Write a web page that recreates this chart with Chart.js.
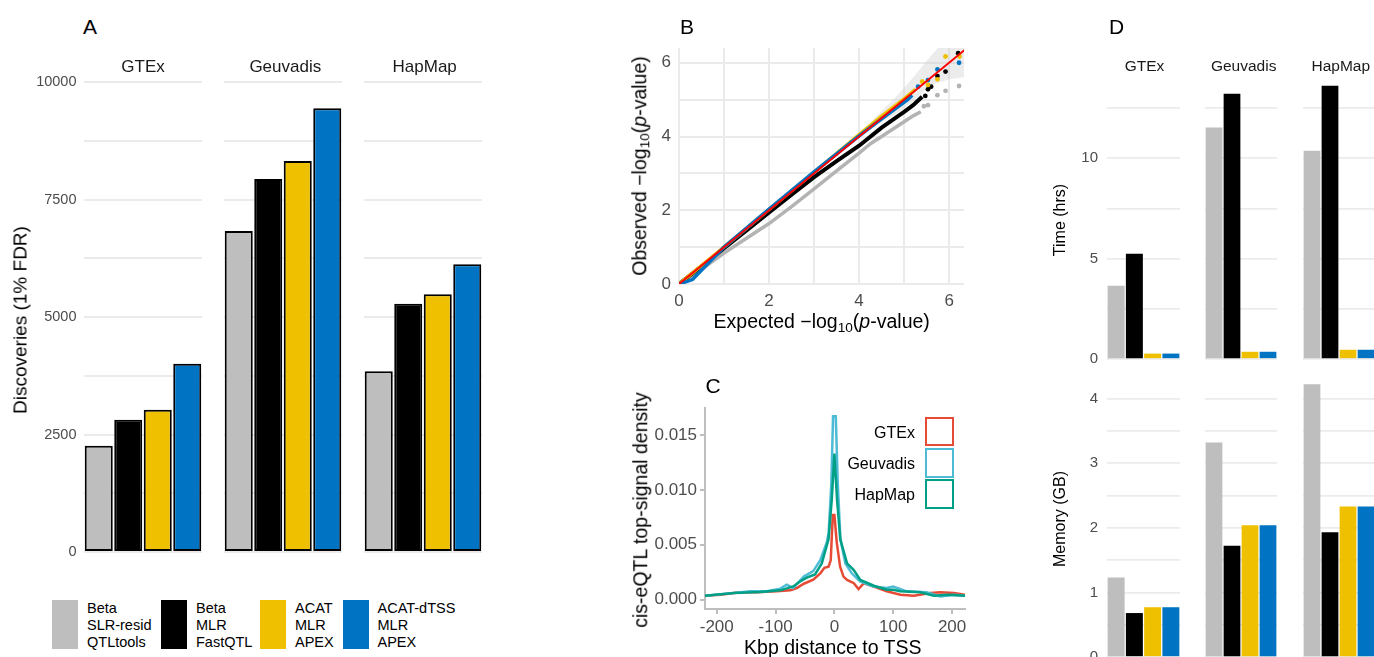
<!DOCTYPE html>
<html><head><meta charset="utf-8">
<script src="https://cdn.jsdelivr.net/npm/chart.js@4.4.0/dist/chart.umd.min.js"></script>
<style>
html,body{margin:0;padding:0;width:1374px;height:657px;overflow:hidden;background:#fff;font-family:'Liberation Sans',Arial,Helvetica,sans-serif;}
canvas{position:absolute;}
.t{position:absolute;white-space:nowrap;line-height:1;transform:translate(-50%,-50%);color:#000;}
.r{transform:translate(-50%,-50%) rotate(-90deg);}
.lg{position:absolute;white-space:nowrap;font-size:14.5px;line-height:17px;color:#000;}
.sw{position:absolute;}
.cbox{position:absolute;box-sizing:border-box;border:2.5px solid;background:#fff;}
sub{font-size:70%;vertical-align:-0.25em;line-height:0;}
</style></head><body>
<script>
// ---------------- DATA ----------------
const facets = ['GTEx', 'Geuvadis', 'HapMap'];
const methods = ['Beta SLR-resid QTLtools', 'Beta MLR FastQTL', 'ACAT MLR APEX', 'ACAT-dTSS MLR APEX'];
const methodLegend = [['Beta','SLR-resid','QTLtools'], ['Beta','MLR','FastQTL'], ['ACAT','MLR','APEX'], ['ACAT-dTSS','MLR','APEX']];
const methodColors = ['#BEBEBE', '#000000', '#EFC000', '#0073C2'];

// Panel A: discoveries (1% FDR)
const discoveriesGTEx = [2261, 2816, 3029, 4004];
const discoveriesGeuvadis = [6832, 7935, 8319, 9443];
const discoveriesHapMap = [3846, 5283, 5482, 6122];
const discoveryTicks = [0, 1250, 2500, 3750, 5000, 6250, 7500, 8750, 10000];
const discoveryTickLabels = ['0', '', '2500', '', '5000', '', '7500', '', '10000'];

// Panel B: QQ plot (expected, observed)
const qqGray = [[0,0],[0.5,0.4],[1,0.84],[1.5,1.24],[2,1.64],[2.5,2.1],[3,2.58],[3.5,3.07],[4,3.55],[4.26,3.81],[4.5,4.0],[5,4.4],[5.2,4.56],[5.37,4.67]];
const qqBlack = [[0,0],[0.5,0.48],[1,0.97],[1.5,1.45],[2,1.94],[2.5,2.42],[3,2.9],[3.5,3.33],[4,3.75],[4.5,4.24],[5,4.67],[5.2,4.85],[5.4,5.08]];
const qqYellow = [[0,0],[1,1.0],[2,2.02],[3,3.03],[4,4.05],[4.5,4.55],[5,5.02],[5.25,5.28]];
const qqBlue = [[0,0],[0.3,0.12],[0.6,0.5],[1,1.0],[2,2.03],[3,3.04],[4,4.02],[4.5,4.48],[5.07,4.99],[5.18,5.12]];
const qqGrayTail = [[5.44,4.82],[5.53,4.85],[5.74,5.12],[5.92,5.24],[6.22,5.37]];
const qqBlackTail = [[5.47,5.1],[5.53,5.28],[5.6,5.35],[5.74,5.64],[5.92,5.76],[6.2,6.26]];
const qqYellowTail = [[5.4,5.49],[5.53,5.4],[5.74,5.55],[5.92,6.17],[6.23,6.17]];
const qqBlueTail = [[5.31,5.35],[5.53,5.53],[5.74,5.82],[6.22,6.0]];
const qqBandUpper = [[4.3,4.45],[4.8,5.05],[5.2,5.6],[5.6,6.2],[5.9,6.6],[6.4,6.6]];
const qqBandLower = [[6.4,5.62],[6.0,5.55],[5.6,5.4],[5.2,4.95],[4.8,4.6],[4.3,4.25]];
const qqIdentity = [[0,0],[6.5,6.5]];
const qqTicks = [0, 1, 2, 3, 4, 5, 6];
const qqTickLabels = ['0', '', '2', '', '4', '', '6'];

// Panel C: top-signal density vs distance to TSS (kbp)
const gtexDistX = [-220,-194,-160,-132,-98,-75,-64,-52,-36,-24,-17,-10,-6.2,-2.8,0,4,9.7,15.4,21.5,33,41,50,67,89,112,135,163,180,203,222];
const gtexDensity = [0.00036,0.00045,0.00067,0.00067,0.00076,0.00085,0.00106,0.00145,0.00182,0.0024,0.0029,0.003,0.0036,0.0077,0.0077,0.0052,0.003,0.0021,0.0018,0.0015,0.00097,0.0015,0.0012,0.00076,0.00045,0.00036,0.0006,0.00067,0.0006,0.00045];
const geuvadisDistX = [-220,-183,-143,-115,-92,-81,-70,-52,-36,-24,-13,-9.8,-5.2,-2.3,2.3,5.7,10.2,18.7,29.5,43.6,66,89,100,123,157,180,203,222];
const geuvadisDensity = [0.00036,0.00055,0.00076,0.00076,0.001,0.00136,0.00106,0.0021,0.0026,0.0036,0.0052,0.0061,0.0106,0.0167,0.0167,0.0106,0.0055,0.0033,0.0024,0.00167,0.0012,0.00106,0.0012,0.00076,0.00067,0.0003,0.00045,0.00036];
const hapmapDistX = [-220,-171,-126,-92,-70,-58,-47,-33,-21.5,-10,-4.5,0,4.5,10,21.5,33,44,67,89,100,112,146,169,192,222];
const hapmapDensity = [0.00036,0.0006,0.0007,0.00085,0.0012,0.00167,0.002,0.0023,0.0033,0.0055,0.0091,0.0133,0.0091,0.0055,0.0033,0.0027,0.0018,0.00127,0.0009,0.0009,0.00076,0.00067,0.00036,0.00045,0.00036];
const densityColors = ['#E64B35', '#4DBBD5', '#00A087'];
const distTicks = [-200, -100, 0, 100, 200];
const distTickLabels = ['-200', '-100', '0', '100', '200'];
const densTicks = [0, 0.005, 0.010, 0.015];
const densTickLabels = ['0.000', '0.005', '0.010', '0.015'];

// Panel D: time (hrs) and memory (GB)
const timeGTEx = [3.65, 5.25, 0.27, 0.27];
const timeGeuvadis = [11.53, 13.22, 0.36, 0.36];
const timeHapMap = [10.38, 13.62, 0.46, 0.46];
const memGTEx = [1.23, 0.68, 0.77, 0.77];
const memGeuvadis = [3.32, 1.72, 2.04, 2.04];
const memHapMap = [4.22, 1.93, 2.33, 2.33];
const timeTicks = [0, 2.5, 5, 7.5, 10, 12.5];
const timeTickLabels = ['0', '', '5', '', '10', ''];
const memTicks = [0, 0.5, 1, 1.5, 2, 2.5, 3, 3.5, 4];
const memTickLabels = ['0', '', '1', '', '2', '', '3', '', '4'];

// ---------------- HELPERS ----------------
Chart.defaults.font.family = "'Liberation Sans', Arial, Helvetica, sans-serif";
Chart.defaults.color = '#4D4D4D';
Chart.defaults.animation = false;
const PAD = 28;
function makeCanvas(area, yW, xH) {
  const c = document.createElement('canvas');
  const left = Math.round(area.l - PAD - yW), top = Math.round(area.t - PAD);
  const w = Math.round(area.r + PAD) - left, h = Math.round(area.b + xH + PAD) - top;
  c.width = w; c.height = h;
  c.style.left = left + 'px'; c.style.top = top + 'px';
  c.style.width = w + 'px'; c.style.height = h + 'px';
  document.body.appendChild(c);
  return c;
}
function baseOptions() {
  return { responsive: false, devicePixelRatio: 1, animation: false,
    layout: { padding: PAD },
    plugins: { legend: { display: false }, tooltip: { enabled: false } } };
}
function fixedTicks(values) { return s => { s.ticks = values.map(v => ({ value: v })); }; }
function label(html, cx, cy, size, extra) {
  const d = document.createElement('div');
  d.className = 't' + (extra && extra.rot ? ' r' : '');
  d.innerHTML = html;
  d.style.left = cx + 'px'; d.style.top = cy + 'px'; d.style.fontSize = size + 'px';
  if (extra && extra.color) d.style.color = extra.color;
  document.body.appendChild(d);
}
function pairs(arr) { return arr.map(p => ({ x: p[0], y: p[1] })); }
function xy(xs, ys) { return xs.map((x, i) => ({ x: x, y: ys[i] })); }

function facetBar(area, values, showY, s) {
  const yW = showY ? s.yW : 0;
  const c = makeCanvas(area, yW, 0);
  const o = baseOptions();
  o.scales = {
    x: { display: false },
    y: { min: s.min, max: s.max, display: true,
      afterBuildTicks: fixedTicks(s.ticks),
      afterFit: sc => { sc.width = yW; },
      ticks: { display: showY, autoSkip: false, padding: s.tickPad, color: '#4D4D4D',
        font: { size: s.fontSize }, callback: (v, i) => s.labels[i] },
      grid: { color: '#EBEBEB', lineWidth: s.gridW, drawTicks: false },
      border: { display: false } }
  };
  new Chart(c, { type: 'bar', data: { labels: methods, datasets: [{
    data: values, backgroundColor: methodColors,
    borderColor: '#000000', borderWidth: s.border, borderSkipped: false,
    barPercentage: s.barPct, categoryPercentage: 1 }] }, options: o });
}

// ---------------- PANEL A ----------------
const aStyle = { min: 0, max: 10000, ticks: discoveryTicks, labels: discoveryTickLabels,
  yW: 70, tickPad: 7.5, fontSize: 14.5, gridW: 2, border: 2, barPct: 0.95 };
const aFacetX = [[83.5, 201.5], [223.5, 341.5], [363.5, 482]];
const aValues = [discoveriesGTEx, discoveriesGeuvadis, discoveriesHapMap];
aFacetX.forEach((fx, i) => facetBar({ l: fx[0], t: 82.3, r: fx[1], b: 552 }, aValues[i], i === 0, aStyle));
label('A', 90, 25.5, 21);
[143, 285.3, 424.7].forEach((cx, i) => label(facets[i], cx, 66, 17, { color: '#1A1A1A' }));
label('Discoveries (1% FDR)', 20, 320, 19, { rot: true });
// legend
const swX = [52, 161, 260, 343], txX = [87, 196, 295, 377.5];
methodLegend.forEach((lines, i) => {
  const sw = document.createElement('div'); sw.className = 'sw';
  sw.style.cssText = `left:${swX[i]}px;top:600px;width:25.5px;height:49px;background:${methodColors[i]};`;
  document.body.appendChild(sw);
  const t = document.createElement('div'); t.className = 'lg';
  t.style.left = txX[i] + 'px'; t.style.top = '599.5px';
  t.innerHTML = lines.join('<br>');
  document.body.appendChild(t);
});

// ---------------- PANEL B ----------------
(function () {
  const c = makeCanvas({ l: 678.5, t: 48, r: 963.5, b: 283.5 }, 40, 30);
  const o = baseOptions();
  const gridB = { color: '#EBEBEB', lineWidth: 2, drawTicks: false };
  o.scales = {
    x: { type: 'linear', min: 0, max: 6.33, afterBuildTicks: fixedTicks(qqTicks),
      afterFit: s => { s.height = 30; },
      ticks: { autoSkip: false, maxRotation: 0, padding: 7, font: { size: 17 }, color: '#4D4D4D', callback: (v, i) => qqTickLabels[i] },
      grid: gridB, border: { display: false } },
    y: { type: 'linear', min: 0, max: 6.4, afterBuildTicks: fixedTicks(qqTicks),
      afterFit: s => { s.width = 40; },
      ticks: { autoSkip: false, padding: 8, font: { size: 17 }, color: '#4D4D4D', callback: (v, i) => qqTickLabels[i] },
      grid: gridB, border: { display: false } }
  };
  const line = (d, col, w, ord) => ({ data: pairs(d), showLine: true, borderColor: col, borderWidth: w, pointRadius: 0, fill: false, order: ord });
  const dots = (d, col, ord) => ({ data: pairs(d), showLine: false, backgroundColor: col, borderWidth: 0, pointRadius: 2.4, order: ord });
  new Chart(c, { type: 'scatter', data: { datasets: [
    { data: pairs(qqBandUpper.concat(qqBandLower)), showLine: true, fill: 'shape', backgroundColor: 'rgba(200,200,200,0.35)', borderWidth: 0, pointRadius: 0, order: 20 },
    line(qqGray, '#B3B3B3', 3.5, 10), dots(qqGrayTail, '#B3B3B3', 9),
    line(qqBlack, '#000000', 4, 8), dots(qqBlackTail, '#000000', 7),
    line(qqYellow, '#EFC000', 3.5, 6), dots(qqYellowTail, '#EFC000', 5),
    line(qqBlue, '#0073C2', 3.5, 4), dots(qqBlueTail, '#0073C2', 3),
    { data: pairs(qqIdentity), showLine: true, borderColor: '#FF0000', borderWidth: 2, pointRadius: 0, order: 0 }
  ] }, options: o });
})();
label('B', 687, 25.5, 21);
label('Expected \u2212log<sub>10</sub>(<i>p</i>-value)', 821.7, 322, 19.5);
label('Observed \u2212log<sub>10</sub>(<i>p</i>-value)', 640, 166, 19.5, { rot: true });

// ---------------- PANEL C ----------------
(function () {
  const c = makeCanvas({ l: 705, t: 408, r: 965, b: 609 }, 62, 28);
  const o = baseOptions();
  const axisGrid = { display: true, drawOnChartArea: false, drawTicks: true, tickLength: 5, color: '#BEBEBE', lineWidth: 2 };
  o.scales = {
    x: { type: 'linear', min: -220, max: 222, afterBuildTicks: fixedTicks(distTicks),
      afterFit: s => { s.height = 28; },
      ticks: { autoSkip: false, maxRotation: 0, padding: 3, font: { size: 17 }, color: '#4D4D4D', callback: (v, i) => distTickLabels[i] },
      grid: axisGrid, border: { display: true, color: '#BEBEBE', width: 2 } },
    y: { type: 'linear', min: -0.00085, max: 0.01745, afterBuildTicks: fixedTicks(densTicks),
      afterFit: s => { s.width = 62; },
      ticks: { autoSkip: false, padding: 3, font: { size: 17 }, color: '#4D4D4D', callback: (v, i) => densTickLabels[i] },
      grid: axisGrid, border: { display: true, color: '#BEBEBE', width: 2 } }
  };
  const ln = (xs, ys, col, ord) => ({ data: xy(xs, ys), showLine: true, borderColor: col, borderWidth: 2.5, pointRadius: 0, fill: false, order: ord, tension: 0 });
  new Chart(c, { type: 'scatter', data: { datasets: [
    ln(gtexDistX, gtexDensity, densityColors[0], 3),
    ln(geuvadisDistX, geuvadisDensity, densityColors[1], 2),
    ln(hapmapDistX, hapmapDensity, densityColors[2], 1)
  ] }, options: o });
})();
label('C', 713, 385, 21);
label('Kbp distance to TSS', 832.8, 647.5, 19.5);
label('cis-eQTL top-signal density', 640.5, 510, 19.5, { rot: true });
const cBoxTop = [416.7, 448, 479.3], cLabY = [432.7, 464, 495];
facets.forEach((f, i) => {
  const b = document.createElement('div'); b.className = 'cbox';
  b.style.cssText = `left:925px;top:${cBoxTop[i]}px;width:29px;height:29.5px;border-color:${densityColors[i]};`;
  document.body.appendChild(b);
  const t = document.createElement('div'); t.className = 't';
  t.style.cssText = `left:915px;top:${cLabY[i]}px;font-size:16px;transform:translate(-100%,-50%);`;
  t.textContent = f;
  document.body.appendChild(t);
});

// ---------------- PANEL D ----------------
const dFacetX = [[1107.3, 1180], [1205, 1277.3], [1302.7, 1375]];
const tStyle = { min: 0, max: 14.3, ticks: timeTicks, labels: timeTickLabels,
  yW: 40, tickPad: 9, fontSize: 15, gridW: 1.7, border: 0, barPct: 0.93 };
const mStyle = { min: 0, max: 4.44, ticks: memTicks, labels: memTickLabels,
  yW: 40, tickPad: 9, fontSize: 15, gridW: 1.7, border: 0, barPct: 0.93 };
const tValues = [timeGTEx, timeGeuvadis, timeHapMap];
const mValues = [memGTEx, memGeuvadis, memHapMap];
dFacetX.forEach((fx, i) => facetBar({ l: fx[0], t: 72.3, r: fx[1], b: 359.3 }, tValues[i], i === 0, tStyle));
dFacetX.forEach((fx, i) => facetBar({ l: fx[0], t: 370, r: fx[1], b: 657 }, mValues[i], i === 0, mStyle));
label('D', 1116.5, 25.8, 21);
[1144.5, 1243.7, 1340.8].forEach((cx, i) => label(facets[i], cx, 66, 15.5, { color: '#1A1A1A' }));
label('Time (hrs)', 1060, 220, 16, { rot: true });
label('Memory (GB)', 1060, 519, 16, { rot: true });
</script>
</body></html>
